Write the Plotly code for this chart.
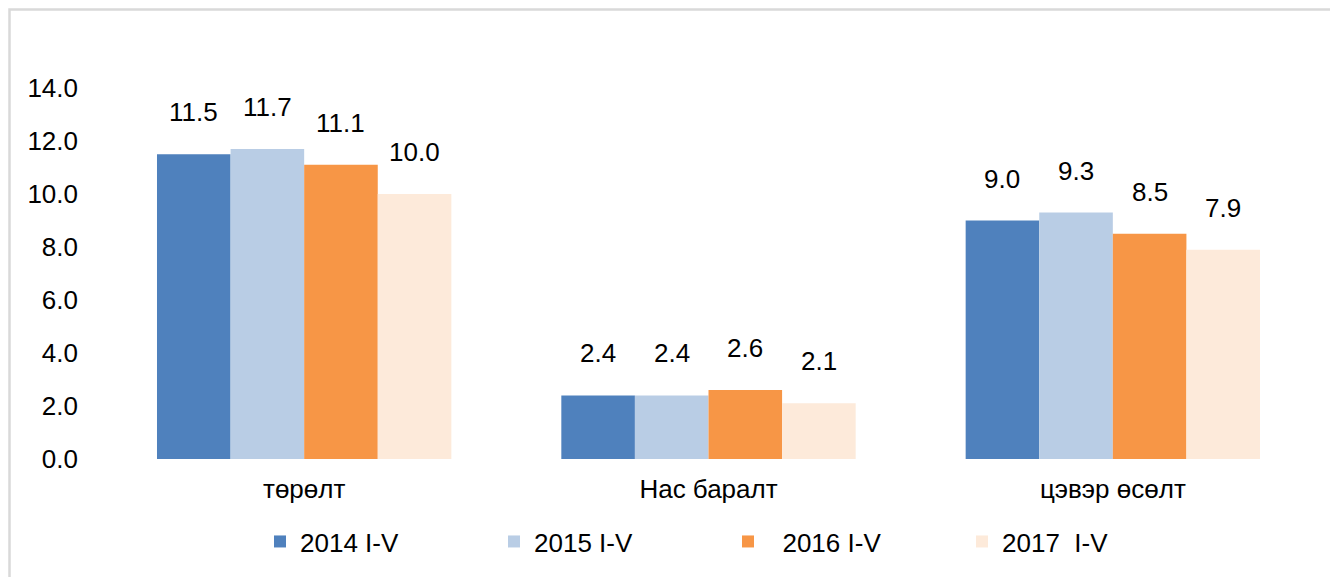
import plotly.graph_objects as go

categories = ["төрөлт", "Нас баралт", "цэвэр өсөлт"]
series_names = ["2014 I-V", "2015 I-V", "\u00a0\u00a02016 I-V", "2017\u00a0\u00a0I-V"]
values_2014 = [11.5, 2.4, 9.0]
values_2015 = [11.7, 2.4, 9.3]
values_2016 = [11.1, 2.6, 8.5]
values_2017 = [10.0, 2.1, 7.9]
colors = ["#4F81BD", "#B9CDE5", "#F79646", "#FDEADA"]
y_ticks = [0, 2, 4, 6, 8, 10, 12, 14]
y_tick_labels = ["0.0", "2.0", "4.0", "6.0", "8.0", "10.0", "12.0", "14.0"]

all_series = [values_2014, values_2015, values_2016, values_2017]
FONT = "Liberation Sans, Arial, sans-serif"

# page body adds an 8px margin; figure fills the rest of the 1338x577 window
W, H = 1330, 569
ML, MR, MT, MB = 94, 23, 80, 116
pw = W - ML - MR
ph = H - MT - MB

xs = list(range(len(categories)))
bargap = 0.272
n = len(all_series)
bw = (1 - bargap) / n

fig = go.Figure()
for i, (name, vals, col) in enumerate(zip(series_names, all_series, colors)):
    fig.add_trace(go.Bar(
        x=xs, y=vals, name=name, marker=dict(color=col, line=dict(width=0)),
        hoverinfo="y",
    ))
    off = -(1 - bargap) / 2 + bw * (i + 0.5)
    for xi, v in zip(xs, vals):
        fig.add_annotation(
            x=xi + off, y=v, xref="x", yref="y", text=f"{v:.1f}",
            showarrow=False, yanchor="middle", yshift=42,
            font=dict(family=FONT, size=26, color="#000000"),
        )

# light gray frame (top/left visible)
fig.add_shape(
    type="rect", xref="paper", yref="paper",
    x0=(1.5 - ML) / pw, x1=(W + 20 - ML) / pw,
    y0=(H - MB - (H + 20)) / ph, y1=(H - MB - 1.2) / ph,
    line=dict(color="#D9D9D9", width=2.5), fillcolor="rgba(0,0,0,0)", layer="below",
)

fig.update_layout(
    width=W, height=H,
    margin=dict(l=ML, r=MR, t=MT, b=MB, pad=0),
    paper_bgcolor="white", plot_bgcolor="white",
    barmode="group", bargap=bargap, bargroupgap=0,
    font=dict(family=FONT, size=26, color="#000000"),
    showlegend=True,
    legend=dict(
        orientation="h", x=(252 - ML) / pw, xanchor="left",
        y=(H - MB - 536) / ph, yanchor="middle",
        entrywidth=189, entrywidthmode="pixels",
        font=dict(family=FONT, size=26, color="#000000"),
        itemclick=False, itemdoubleclick=False,
    ),
    xaxis=dict(
        tickmode="array", tickvals=xs, ticktext=categories,
        range=[-0.5, len(categories) - 0.5],
        showline=False, showgrid=False, zeroline=False, ticks="",
        ticklabelstandoff=12,
        tickfont=dict(family=FONT, size=26, color="#000000"),
    ),
    yaxis=dict(
        range=[0, 14], tickmode="array", tickvals=y_ticks, ticktext=y_tick_labels,
        showline=False, showgrid=False, zeroline=False, ticks="",
        ticklabelstandoff=23,
        tickfont=dict(family=FONT, size=26, color="#000000"),
    ),
)

fig.write_html("out.html")
